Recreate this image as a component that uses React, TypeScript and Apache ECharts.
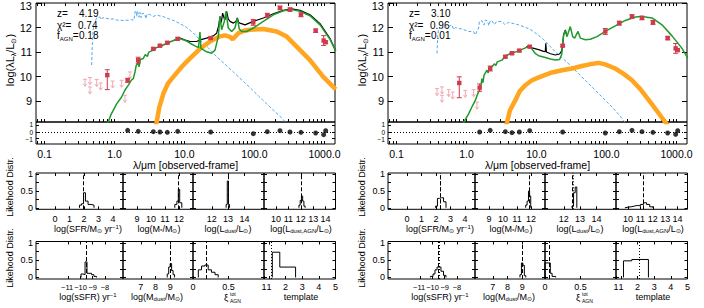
import React, { useEffect, useRef } from "react";
import * as echarts from "echarts";

const FONT = '"Liberation Sans", Arial, Helvetica, sans-serif';
const INK = "#000000";
const BLUE = "#4da9f2";
const ORANGE = "#ffa51f";
const GREEN = "#1e9b2b";
const RED = "#cf3a4c";
const PINK = "#f0a8b3";

// ---------------- SED axes (x: log10 λ/μm observed, y: log10 λLλ/L⊙) ----------------
const SED_X = [-1.121, 3.15];
const SED_Y = [8.15, 13.0];
const RES_Y = [-1.8, 1.5];
const lamTickLogs = [-1, 0, 1, 2, 3];
const lamTickLabels = ["0.1", "1.0", "10.0", "100.0", "1000.0"];
const lumTicks = [9, 10, 11, 12, 13];
const resTicks = [-1, 0, 1];

// shared photometric bands (log10 λ/μm)
const obsLgLam = [-0.103, 0.188, 0.339, 0.555, 0.65, 0.755, 0.903, 1.374, 1.983, 2.183, 2.364, 2.507, 2.664, 2.874, 2.988, 3.017];

// ---------------- left object: z = 4.19 ----------------
const leftZ = "4.19";
const leftChi2 = "0.74";
const leftFagn = "0.18";
const leftBlue = [[-0.326,10.47],[-0.318,11.2],[-0.305,11.9],[-0.29,12.15],[-0.255,12.39],[-0.207,12.43],[-0.19,12.32],[-0.17,12.4],[-0.136,12.39],[-0.06,12.34],[-0.017,12.35],[0.04,12.3],[0.126,12.29],[0.2,12.3],[0.245,12.32],[0.279,12.3],[0.29,12.62],[0.307,12.7],[0.317,12.45],[0.33,12.66],[0.35,12.42],[0.364,12.62],[0.38,12.4],[0.395,12.58],[0.43,12.56],[0.45,12.36],[0.465,12.55],[0.507,12.53],[0.55,12.45],[0.602,12.5],[0.697,12.45],[0.75,12.38],[0.85,12.28],[0.936,12.16],[1.031,12.0],[1.126,11.78],[1.221,11.5],[1.34,11.17],[1.46,10.81],[1.58,10.5],[1.698,10.19],[1.82,9.86],[1.936,9.55],[2.06,9.2],[2.174,8.89],[2.29,8.58],[2.402,8.28],[2.45,8.12]];
const leftOrange = [[0.59,8.0],[0.602,8.14],[0.64,8.75],[0.697,9.3],[0.76,9.7],[0.84,9.99],[0.983,10.47],[1.079,10.74],[1.221,11.13],[1.364,11.43],[1.507,11.64],[1.58,11.68],[1.65,11.62],[1.688,11.52],[1.769,11.77],[1.85,11.87],[1.936,11.91],[2.126,11.94],[2.317,11.84],[2.46,11.63],[2.602,11.22],[2.793,10.67],[2.983,9.99],[3.16,9.48]];
const leftGreen = [[-0.11,8.0],[-0.05,8.45],[0.031,8.89],[0.102,9.17],[0.15,9.45],[0.198,9.65],[0.24,9.85],[0.269,9.92],[0.293,10.19],[0.31,10.45],[0.34,10.6],[0.35,10.4],[0.37,10.7],[0.412,10.74],[0.44,10.9],[0.47,10.82],[0.49,11.0],[0.555,11.08],[0.6,11.18],[0.697,11.29],[0.8,11.42],[0.888,11.52],[0.936,11.55],[0.98,11.5],[1.031,11.45],[1.079,11.36],[1.15,11.25],[1.2,11.18],[1.221,11.82],[1.235,11.15],[1.317,11.01],[1.388,10.95],[1.436,11.08],[1.483,11.63],[1.507,12.45],[1.531,11.91],[1.569,12.25],[1.593,12.66],[1.626,11.98],[1.674,11.84],[1.721,11.98],[1.755,12.39],[1.783,11.94],[1.817,11.84],[1.888,11.84],[1.983,11.98],[2.126,12.25],[2.269,12.52],[2.412,12.68],[2.531,12.73],[2.65,12.66],[2.793,12.48],[2.936,12.11],[3.079,11.52],[3.16,11.05]];
const leftBlack = [[0.85,11.47],[0.936,11.57],[1.0,11.5],[1.079,11.43],[1.174,11.43],[1.221,11.5],[1.317,11.57],[1.412,11.66],[1.46,11.77],[1.49,12.1],[1.507,12.45],[1.525,12.2],[1.545,12.59],[1.569,12.35],[1.579,12.32],[1.602,12.66],[1.625,12.35],[1.65,12.25],[1.698,12.18],[1.735,12.25],[1.755,12.39],[1.775,12.2],[1.793,12.18],[1.864,12.11],[1.983,12.25],[2.126,12.39],[2.269,12.56],[2.412,12.7],[2.531,12.76],[2.65,12.7],[2.793,12.52],[2.936,12.16],[3.079,11.55],[3.16,11.05]];
const leftObsLgL = [10.06, 9.85, 10.67, 11.13, 11.26, 11.38, 11.54, 11.57, 12.21, 12.5, 12.8, 12.73, 12.52, 11.87, 11.47, 11.4];
const leftObsErrLo = [0.59, 0.08, 0.12, 0.04, 0.04, 0.04, 0.04, 0.04, 0.12, 0.08, 0.07, 0.07, 0.08, 0.07, 0.2, 0.05];
const leftObsErrHi = [0.22, 0.08, 0.12, 0.04, 0.04, 0.04, 0.04, 0.04, 0.12, 0.08, 0.07, 0.07, 0.08, 0.07, 0.2, 0.05];
const leftLimLgLam = [-0.421, -0.35, -0.35, -0.254, -0.197, -0.026, 0.102, 0.15, 0.221];
const leftLimLgL = [9.89, 9.96, 9.58, 9.88, 9.74, 9.82, 9.85, 9.24, 10.19];
const leftResid = [0.25, 0.1, 0.05, 0, -0.05, 0.1, 0, -0.25, 0.05, 0.2, 0, -0.05, -0.15, -0.4, 0.2];

// ---------------- right object: z = 3.10 ----------------
const rightZ = "3.10";
const rightChi2 = "0.96";
const rightFagn = "0.01";
const rightBlue = [[-0.421,10.95],[-0.412,11.6],[-0.4,11.95],[-0.35,11.98],[-0.3,12.02],[-0.254,12.04],[-0.207,12.11],[-0.185,11.92],[-0.16,12.0],[-0.11,11.96],[-0.064,11.94],[0.031,11.84],[0.1,11.84],[0.126,11.7],[0.15,11.86],[0.174,11.98],[0.185,12.25],[0.221,12.28],[0.25,12.1],[0.269,12.3],[0.3,12.28],[0.32,12.08],[0.34,12.28],[0.364,12.27],[0.4,12.12],[0.43,12.25],[0.507,12.24],[0.55,12.12],[0.602,12.21],[0.745,12.11],[0.85,12.0],[0.936,11.88],[1.079,11.57],[1.17,11.3],[1.269,11.01],[1.39,10.7],[1.507,10.4],[1.6,10.12],[1.698,9.85],[1.82,9.5],[1.936,9.17],[2.03,8.9],[2.126,8.62],[2.245,8.21],[2.27,8.12]];
const rightOrange = [[0.565,8.0],[0.579,8.14],[0.62,8.62],[0.697,9.03],[0.76,9.4],[0.84,9.65],[0.936,9.85],[1.007,9.94],[1.079,10.02],[1.221,10.17],[1.364,10.26],[1.507,10.33],[1.65,10.43],[1.76,10.5],[1.888,10.56],[1.98,10.5],[2.126,10.33],[2.25,10.1],[2.364,9.85],[2.48,9.5],[2.602,9.05],[2.72,8.6],[2.85,8.1],[2.88,8.0]];
const rightGreen = [[-0.06,8.0],[-0.04,8.14],[0.031,8.48],[0.08,8.78],[0.126,9.03],[0.16,9.3],[0.198,9.51],[0.21,9.7],[0.221,9.92],[0.235,9.75],[0.25,10.05],[0.293,10.26],[0.31,10.15],[0.33,10.38],[0.364,10.4],[0.4,10.52],[0.42,10.45],[0.44,10.6],[0.507,10.67],[0.555,10.84],[0.6,10.9],[0.65,10.97],[0.697,11.0],[0.793,11.11],[0.85,11.18],[0.888,11.22],[0.912,11.22],[0.936,11.12],[0.98,10.95],[1.031,10.85],[1.126,10.78],[1.2,10.72],[1.269,10.68],[1.33,10.7],[1.36,10.9],[1.374,11.3],[1.388,11.7],[1.412,11.88],[1.436,11.63],[1.483,12.04],[1.517,11.63],[1.545,11.57],[1.593,11.84],[1.626,11.57],[1.698,11.5],[1.769,11.52],[1.864,11.63],[1.983,11.84],[2.126,12.07],[2.269,12.29],[2.412,12.43],[2.507,12.45],[2.65,12.39],[2.793,12.11],[2.936,11.66],[3.079,11.15],[3.16,10.75]];
const rightBlack = [[0.85,11.2],[0.912,11.24],[0.936,11.17],[1.031,11.1],[1.1,11.03],[1.126,11.02],[1.133,11.36],[1.142,11.0],[1.2,10.93],[1.269,10.88],[1.33,10.92],[1.36,11.05],[1.374,11.32],[1.388,11.72],[1.412,11.9],[1.436,11.64]];
const rightObsLgL = [9.74, 9.55, 10.33, 10.81, 10.95, 11.06, 11.22, 11.26, 11.84, 12.18, 12.45, 12.39, 12.21, 11.57, 11.15, 11.08];
const rightObsErrLo = [0.6, 0.15, 0.1, 0.04, 0.04, 0.04, 0.04, 0.04, 0.12, 0.08, 0.07, 0.07, 0.08, 0.07, 0.2, 0.05];
const rightObsErrHi = [0.25, 0.15, 0.1, 0.04, 0.04, 0.04, 0.04, 0.04, 0.12, 0.08, 0.07, 0.07, 0.08, 0.07, 0.2, 0.05];
const rightLimLgLam = [-0.421, -0.35, -0.35, -0.254, -0.197, -0.017, 0.102, 0.15];
const rightLimLgL = [9.51, 9.58, 9.24, 9.47, 9.37, 9.44, 9.47, 8.96];
const rightResid = [0, 0.25, 0.05, -0.1, 0, 0.2, 0, -0.15, 0.05, 0.25, 0.05, -0.05, -0.15, -0.35, 0.2];

// ---------------- likelihood panels ----------------
const HIST_Y = [-0.045, 1.04];
const histYTicks = [0, 0.25, 0.5, 0.75, 1];
const histYLabels = [0, 0.5, 1];
const sfrTicks = [0, 1, 2, 3, 4];
const mstarTicks = [9, 10, 11, 12];
const ldustTicks = [12, 13, 14];
const lagnTicks = [10, 11, 12, 13, 14];
const ssfrTicks = [-11, -10, -9, -8];
const mdustTicks = [7, 8, 9];
const xiTicks = [0, 0.5, 1];
const tplTicks = [1, 2, 3, 4, 5];

// left object distributions: bin edges, heights, best (dashed), extra (dotted)
const lSfrEdges = [1.69, 1.83, 1.97, 2.10, 2.28, 2.48, 2.69];
const lSfrH = [0.08, 0.12, 0.45, 0.2, 0.1, 0.08];
const lMstarEdges = [11.7, 11.85, 11.95, 12.05, 12.2];
const lMstarH = [0.1, 0.2, 0.55, 0.15];
const lLdustEdges = [12.88, 12.95, 13.02, 13.09];
const lLdustH = [0.1, 0.8, 0.1];
const lLagnEdges = [11.85, 11.95, 12.05, 12.15, 12.25, 12.35];
const lLagnH = [0.08, 0.22, 0.35, 0.2, 0.05];
const lSsfrEdges = [-9.96, -9.80, -9.63, -9.47, -9.31, -9.10, -8.90, -8.69];
const lSsfrH = [0.1, 0.08, 0.45, 0.12, 0.12, 0.08, 0.03];
const lMdustEdges = [8.8, 8.9, 9.0, 9.1, 9.2, 9.3];
const lMdustH = [0.1, 0.3, 0.4, 0.2, 0.08];
const lXiEdges = [0.075, 0.12, 0.167, 0.214, 0.26, 0.31, 0.355];
const lXiH = [0.22, 0.33, 0.36, 0.22, 0.15, 0.08];
const lTplEdges = [1.2, 1.65, 2.6];
const lTplH = [0.73, 0.3];
const lBest = [1.92, 11.95, 13.0, 12.05, -9.5, 8.98, 0.18, null];
const lDot = [null, null, null, null, null, null, null, 1.15];

// right object distributions
const rSfrEdges = [1.97, 2.10, 2.24, 2.38, 2.52, 2.69];
const rSfrH = [0.05, 0.28, 0.3, 0.3, 0.18];
const rMstarEdges = [11.62, 11.72, 11.82, 11.9, 11.98];
const rMstarH = [0.08, 0.2, 0.5, 0.35];
const rLdustEdges = [12.5, 12.6, 12.7, 12.8];
const rLdustH = [0.05, 0.45, 0.62];
const rLagnEdges = [9.75, 10.0, 10.25, 10.5, 10.75, 11.0, 11.25, 11.5, 11.75, 12.0];
const rLagnH = [0.02, 0.03, 0.05, 0.07, 0.06, 0.1, 0.15, 0.1, 0.03];
const rSsfrEdges = [-10.18, -9.96, -9.80, -9.63, -9.47, -9.31, -9.10, -8.90];
const rSsfrH = [0.03, 0.1, 0.22, 0.3, 0.3, 0.18, 0.06];
const rMdustEdges = [8.85, 8.95, 9.05, 9.15, 9.25];
const rMdustH = [0.08, 0.42, 0.35, 0.05];
const rXiEdges = [0, 0.075, 0.1, 0.15];
const rXiH = [0.42, 0.12, 0.03];
const rTplEdges = [1.15, 1.65, 2.65];
const rTplH = [0.48, 0.52];
const rBest = [2.28, 11.87, 12.55, 11.26, -9.55, 9.0, 0.06, null];
const rDot = [2.31, null, 12.58, null, -9.45, null, null, 2.1];

// ---------------- layout ----------------
const histCols = [
  { x: 36, w: 87 },
  { x: 123, w: 70 },
  { x: 193, w: 71 },
  { x: 264, w: 71.5 },
];
const histRows = [
  { y: 173, h: 36.3, margin: 5.5, titleY: 229 },
  { y: 241.5, h: 37.5, margin: 3.5, titleY: 297 },
];

const histSpecs = [
  { range: [-1.31, 4.69], ticks: sfrTicks, title: "{a|log(SFR/M}{s|⊙}{a| yr}{p|−1}{a|)}", cx: 88 },
  { range: [8, 13], ticks: mstarTicks, title: "{a|log(M}{s|*}{a|/M}{s|⊙}{a|)}", cx: 159 },
  { range: [10.85, 15.2], ticks: ldustTicks, title: "{a|log(L}{s|dust}{a|/L}{s|⊙}{a|)}", cx: 228 },
  { range: [9.03, 14.8], ticks: lagnTicks, title: "{a|log(L}{s|dust,AGN}{a|/L}{s|⊙}{a|)}", cx: 301 },
  { range: [-13.65, -6.52], ticks: ssfrTicks, title: "{a|log(sSFR) yr}{p|−1}", cx: 88, manual: true },
  { range: [5.78, 10.56], ticks: mdustTicks, title: "{a|log(M}{s|dust}{a|/M}{s|⊙}{a|)}", cx: 157 },
  { range: [0, 1], ticks: xiTicks, title: "XI", cx: 229 },
  { range: [0.7, 5.0], ticks: tplTicks, title: "{a|template}", cx: 301 },
];

const leftHist = [
  [lSfrEdges, lSfrH], [lMstarEdges, lMstarH], [lLdustEdges, lLdustH], [lLagnEdges, lLagnH],
  [lSsfrEdges, lSsfrH], [lMdustEdges, lMdustH], [lXiEdges, lXiH], [lTplEdges, lTplH],
];
const rightHist = [
  [rSfrEdges, rSfrH], [rMstarEdges, rMstarH], [rLdustEdges, rLdustH], [rLagnEdges, rLagnH],
  [rSsfrEdges, rSsfrH], [rMdustEdges, rMdustH], [rXiEdges, rXiH], [rTplEdges, rTplH],
];

function lamTicksAll() {
  const out: number[] = [];
  for (let d = -2; d <= 3; d++) {
    for (let k = 1; k <= 9; k++) {
      const v = d + Math.log10(k);
      if (v >= SED_X[0] && v <= SED_X[1]) out.push(v);
    }
  }
  return out;
}

function stepPts(edges: number[], h: number[]) {
  const pts: number[][] = [[edges[0], 0]];
  for (let i = 0; i < h.length; i++) {
    pts.push([edges[i], h[i]]);
    pts.push([edges[i + 1], h[i]]);
  }
  pts.push([edges[edges.length - 1], 0]);
  return pts;
}

function tickAxis(gi: number, range: number[], position: string, ticks: number[], len: number) {
  return {
    gridIndex: gi,
    type: "value",
    min: range[0],
    max: range[1],
    position,
    axisLine: { show: false, onZero: false },
    splitLine: { show: false },
    axisLabel: { show: false },
    axisTick: { show: true, inside: true, length: len, customValues: ticks, lineStyle: { color: INK, width: 1 } },
  };
}

const richSmall = {
  a: { fontSize: 9, fontFamily: FONT, fill: INK, color: INK, lineHeight: 10, verticalAlign: "middle" },
  s: { fontSize: 6, fontFamily: FONT, fill: INK, color: INK, lineHeight: 6, verticalAlign: "bottom" },
  p: { fontSize: 6, fontFamily: FONT, fill: INK, color: INK, lineHeight: 6, verticalAlign: "top" },
};

function textEl(x: number, y: number, text: string, size: number, align = "left", rich?: any, rotation = 0) {
  const st: any = {
    text,
    fill: INK,
    font: `${size}px ${FONT}`,
    align,
    verticalAlign: "middle",
    textAlign: align,
    textVerticalAlign: "middle",
  };
  if (rich) st.rich = rich;
  return { type: "text", x, y, rotation, style: st, silent: true };
}

function buildOption() {
  const o: any = { animation: false, backgroundColor: "#ffffff", grid: [], xAxis: [], yAxis: [], series: [], graphic: [] };
  const addGrid = (left: number, top: number, width: number, height: number) => {
    o.grid.push({ left, top, width, height, show: true, borderColor: INK, borderWidth: 1, backgroundColor: "transparent" });
    return o.grid.length - 1;
  };
  const addX = (a: any) => { o.xAxis.push(a); return o.xAxis.length - 1; };
  const addY = (a: any) => { o.yAxis.push(a); return o.yAxis.length - 1; };
  const allLam = lamTicksAll();

  const errRender = (params: any, api: any) => {
    const x = api.value(0), y = api.value(1), lo = api.value(2), hi = api.value(3);
    const c = api.coord([x, y]);
    const yl = api.coord([x, y - lo])[1];
    const yh = api.coord([x, y + hi])[1];
    const st = { stroke: RED, lineWidth: 1, fill: null };
    return {
      type: "group",
      children: [
        { type: "line", shape: { x1: c[0], y1: yl, x2: c[0], y2: yh }, style: st },
        { type: "line", shape: { x1: c[0] - 2.5, y1: yl, x2: c[0] + 2.5, y2: yl }, style: st },
        { type: "line", shape: { x1: c[0] - 2.5, y1: yh, x2: c[0] + 2.5, y2: yh }, style: st },
        { type: "rect", shape: { x: c[0] - 2.2, y: c[1] - 2.2, width: 4.4, height: 4.4 }, style: { fill: RED } },
      ],
    };
  };
  const limRender = (params: any, api: any) => {
    const c = api.coord([api.value(0), api.value(1)]);
    const st = { stroke: PINK, lineWidth: 1, fill: null };
    return {
      type: "group",
      children: [
        { type: "line", shape: { x1: c[0] - 2, y1: c[1], x2: c[0] + 2, y2: c[1] }, style: st },
        { type: "line", shape: { x1: c[0], y1: c[1], x2: c[0], y2: c[1] + 7 }, style: st },
        { type: "polyline", shape: { points: [[c[0] - 1.8, c[1] + 4.5], [c[0], c[1] + 7], [c[0] + 1.8, c[1] + 4.5]] }, style: st },
      ],
    };
  };

  const addSed = (ox: number, d: any) => {
    const gM = addGrid(ox + 36, 3, 299, 119);
    const gR = addGrid(ox + 36, 122, 299, 22);
    const xM = addX(tickAxis(gM, SED_X, "bottom", allLam, 3));
    addX(tickAxis(gM, SED_X, "top", allLam, 3));
    const yM = addY({
      ...tickAxis(gM, SED_Y, "left", lumTicks, 5),
      axisLabel: {
        show: true, hideOverlap: false, customValues: lumTicks, fontSize: 11, fontFamily: FONT, color: INK, margin: 4,
        formatter: (v: number) => (Math.round(v) === 13 ? "{t|13}" : String(Math.round(v))),
        rich: { t: { fontSize: 11, fontFamily: FONT, color: INK, padding: [6, 0, 0, 0] } },
      },
    });
    addY(tickAxis(gM, SED_Y, "right", lumTicks, 5));
    const xR = addX({
      ...tickAxis(gR, SED_X, "bottom", allLam, 3),
      axisLabel: {
        show: true, hideOverlap: false, customValues: lamTickLogs, fontSize: 10.5, fontFamily: FONT, color: INK, margin: 4,
        formatter: (v: number) => lamTickLabels[lamTickLogs.indexOf(Math.round(v))],
      },
      name: "λ/μm [observed-frame]",
      nameLocation: "middle",
      nameGap: 13.5,
      nameTextStyle: { fontSize: 10.5, fontFamily: FONT, color: INK },
    });
    const yR = addY(tickAxis(gR, RES_Y, "left", resTicks, 3));
    addY(tickAxis(gR, RES_Y, "right", resTicks, 3));
    // residual tick labels placed at the residual axis positions of the tick values (spread slightly to avoid overlap)
    resTicks.forEach((v) => {
      const py = 122 + ((RES_Y[1] - v) / (RES_Y[1] - RES_Y[0])) * 22 - v * 0.8;
      o.graphic.push(textEl(ox + 33, py, v < 0 ? "−1" : String(v), 6.5, "right"));
    });

    const line = (data: number[][], color: string, width: number, z: number, type: any = "solid") => ({
      type: "line", xAxisIndex: xM, yAxisIndex: yM, data, symbol: "none", z, clip: true,
      lineStyle: { color, width, type }, silent: true,
    });
    o.series.push(line(d.blue, BLUE, 1, 2, [3, 2]));
    o.series.push(line(d.orange, ORANGE, 4.5, 3));
    o.series.push(line(d.black, INK, 1.2, 4));
    o.series.push(line(d.green, GREEN, 1.5, 5));
    o.series.push({
      type: "custom", xAxisIndex: xM, yAxisIndex: yM, z: 7, silent: true,
      data: d.limLam.map((x: number, i: number) => [x, d.limL[i]]),
      encode: { x: 0, y: 1 }, renderItem: limRender,
    });
    o.series.push({
      type: "custom", xAxisIndex: xM, yAxisIndex: yM, z: 8, silent: true,
      data: obsLgLam.map((x, i) => [x, d.obsL[i], d.errLo[i], d.errHi[i]]),
      encode: { x: 0, y: 1 }, renderItem: errRender,
    });
    o.series.push({
      type: "scatter", xAxisIndex: xR, yAxisIndex: yR, symbol: "circle", symbolSize: 5, z: 6, silent: true,
      itemStyle: { color: INK },
      data: obsLgLam.slice(1).map((x, i) => [x, d.resid[i]]),
      markLine: {
        silent: true, symbol: ["none", "none"], label: { show: false },
        lineStyle: { color: INK, type: [1, 2], width: 1 },
        data: [{ yAxis: 0 }],
      },
    });

    o.graphic.push(
      textEl(ox + 57, 13, "z=", 10),
      textEl(ox + 79, 13, d.z, 10),
      textEl(ox + 57, 25, "χ²=", 10),
      textEl(ox + 78, 25, d.chi2, 10),
      textEl(ox + 57, 35.5, "{a|f}{s|AGN}{a|=}", 10, "left", {
        a: { fontSize: 10, fontFamily: FONT, fill: INK, lineHeight: 12, verticalAlign: "middle" },
        s: { fontSize: 6, fontFamily: FONT, fill: INK, lineHeight: 6, verticalAlign: "bottom" },
      }),
      textEl(ox + 79, 35.5, d.fagn, 10),
      textEl(ox + 10, 60, "{a|log(λL}{s|λ}{a|/L}{s|⊙}{a|)}", 11, "center", {
        a: { fontSize: 11, fontFamily: FONT, fill: INK, lineHeight: 14, verticalAlign: "middle" },
        s: { fontSize: 7, fontFamily: FONT, fill: INK, lineHeight: 7, verticalAlign: "bottom" },
      }, Math.PI / 2)
    );
  };

  const addHists = (ox: number, hists: any[], best: any[], dots: any[]) => {
    for (let k = 0; k < 8; k++) {
      const row = k < 4 ? 0 : 1;
      const col = k % 4;
      const spec: any = histSpecs[k];
      const r = histRows[row];
      const c = histCols[col];
      const gi = addGrid(ox + c.x, r.y, c.w, r.h);
      const xb = addX({
        ...tickAxis(gi, spec.range, "bottom", spec.ticks, 3),
        axisLabel: spec.manual
          ? { show: false }
          : {
              show: true, hideOverlap: false, customValues: spec.ticks, fontSize: 9, fontFamily: FONT, color: INK, margin: r.margin,
              formatter: (v: number) => (v < 0 ? "−" + String(Math.abs(v)) : String(v)),
            },
      });
      if (spec.manual) {
        spec.ticks.forEach((v: number, i: number) => {
          const px = ox + c.x + ((v - spec.range[0]) / (spec.range[1] - spec.range[0])) * c.w + (i === 0 ? -1.2 : 0);
          o.graphic.push(textEl(px, r.y + r.h + r.margin + 4.5, "−" + String(Math.abs(v)), 7.5, "center"));
        });
      }
      addX(tickAxis(gi, spec.range, "top", spec.ticks, 3));
      const yl = addY({
        ...tickAxis(gi, HIST_Y, "left", histYTicks, 3),
        axisLabel: col === 0
          ? { show: true, hideOverlap: false, customValues: histYLabels, fontSize: 9, fontFamily: FONT, color: INK, margin: 3 }
          : { show: false },
      });
      addY(tickAxis(gi, HIST_Y, "right", histYTicks, 3));
      const ml: any[] = [];
      if (best[k] !== null) ml.push({ xAxis: best[k], lineStyle: { type: [4, 2], color: INK, width: 1 } });
      if (dots[k] !== null) ml.push({ xAxis: dots[k], lineStyle: { type: [1, 2], color: INK, width: 1 } });
      o.series.push({
        type: "line", xAxisIndex: xb, yAxisIndex: yl, data: stepPts(hists[k][0], hists[k][1]),
        symbol: "none", silent: true, clip: true, lineStyle: { color: INK, width: 1 },
        markLine: { silent: true, symbol: ["none", "none"], label: { show: false }, data: ml },
      });
      if (spec.title === "XI") {
        o.graphic.push(
          textEl(ox + spec.cx - 3, r.titleY, "ξ", 9.5, "center"),
          textEl(ox + spec.cx + 1, r.titleY - 3.5, "tot", 5, "left"),
          textEl(ox + spec.cx + 1, r.titleY + 3.5, "AGN", 5, "left")
        );
      } else {
        o.graphic.push(textEl(ox + spec.cx, r.titleY, spec.title, 9, "center", richSmall));
      }
    }
    o.graphic.push(
      textEl(ox + 10, 187, "Likehood Distr.", 9, "center", undefined, Math.PI / 2),
      textEl(ox + 10, 258, "Likehood Distr.", 9, "center", undefined, Math.PI / 2)
    );
  };

  addSed(0, {
    blue: leftBlue, orange: leftOrange, green: leftGreen, black: leftBlack,
    obsL: leftObsLgL, errLo: leftObsErrLo, errHi: leftObsErrHi,
    limLam: leftLimLgLam, limL: leftLimLgL, resid: leftResid,
    z: leftZ, chi2: leftChi2, fagn: leftFagn,
  });
  addSed(352, {
    blue: rightBlue, orange: rightOrange, green: rightGreen, black: rightBlack,
    obsL: rightObsLgL, errLo: rightObsErrLo, errHi: rightObsErrHi,
    limLam: rightLimLgLam, limL: rightLimLgL, resid: rightResid,
    z: rightZ, chi2: rightChi2, fagn: rightFagn,
  });
  addHists(0, leftHist, lBest, lDot);
  addHists(352, rightHist, rBest, rDot);
  return o;
}

export default function App() {
  const ref = useRef<HTMLDivElement>(null);
  useEffect(() => {
    const chart = echarts.init(ref.current as HTMLDivElement, null, { renderer: "svg" });
    chart.setOption(buildOption());
    return () => chart.dispose();
  }, []);
  return (
    <div
      ref={ref}
      style={{ position: "fixed", left: 0, top: 0, width: 704, height: 308, background: "#ffffff" }}
    />
  );
}
